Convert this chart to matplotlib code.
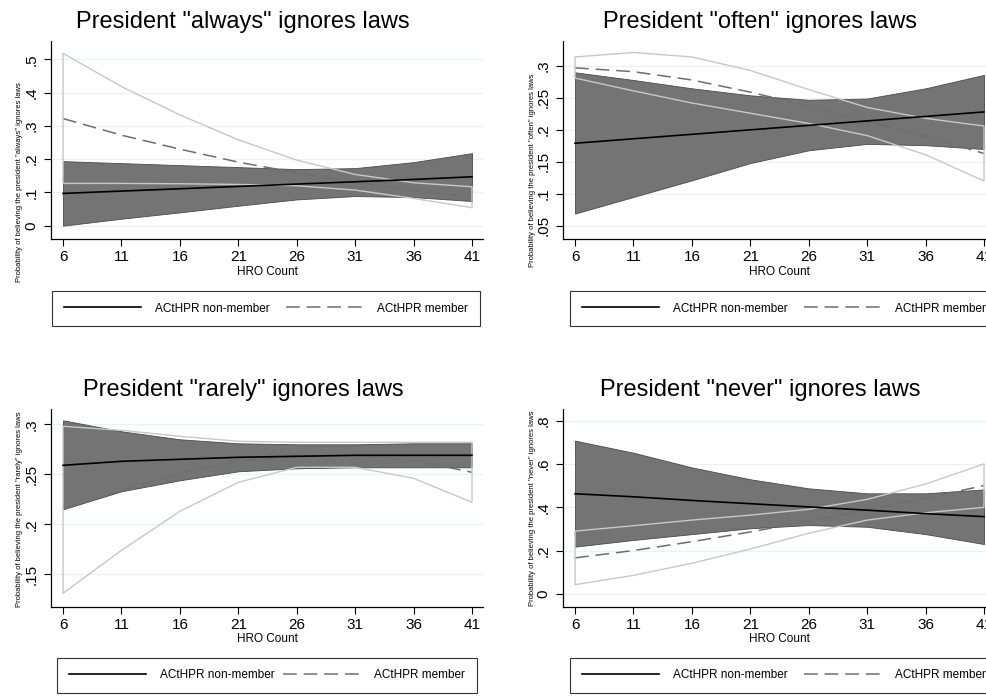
import matplotlib.pyplot as plt

plt.rcParams["font.family"] = ["Liberation Sans", "DejaVu Sans"]

W, H = 986, 696

hro = [6, 11, 16, 21, 26, 31, 36, 41]
x_ticks = [6, 11, 16, 21, 26, 31, 36, 41]
legend_labels = ["ACtHPR non-member", "ACtHPR member"]

# "always"
always_nm = [0.097, 0.104, 0.111, 0.118, 0.125, 0.132, 0.139, 0.147]
always_nm_lo = [0.000, 0.021, 0.040, 0.060, 0.079, 0.089, 0.086, 0.074]
always_nm_hi = [0.194, 0.188, 0.182, 0.176, 0.170, 0.173, 0.191, 0.218]
always_m = [0.322, 0.272, 0.230, 0.191, 0.159, 0.131, 0.106, 0.086]
always_m_lo = [0.127, 0.127, 0.126, 0.124, 0.120, 0.107, 0.082, 0.054]
always_m_hi = [0.518, 0.418, 0.333, 0.258, 0.197, 0.154, 0.129, 0.117]

# "often"
often_nm = [0.179, 0.186, 0.193, 0.200, 0.207, 0.214, 0.221, 0.228]
often_nm_lo = [0.069, 0.095, 0.121, 0.148, 0.168, 0.178, 0.176, 0.170]
often_nm_hi = [0.290, 0.278, 0.265, 0.254, 0.247, 0.249, 0.265, 0.286]
often_m = [0.297, 0.291, 0.278, 0.259, 0.237, 0.213, 0.190, 0.163]
often_m_lo = [0.281, 0.261, 0.242, 0.226, 0.210, 0.191, 0.161, 0.120]
often_m_hi = [0.314, 0.321, 0.314, 0.293, 0.263, 0.235, 0.218, 0.206]

# "rarely"
rarely_nm = [0.259, 0.263, 0.265, 0.267, 0.268, 0.269, 0.269, 0.269]
rarely_nm_lo = [0.215, 0.233, 0.244, 0.253, 0.256, 0.257, 0.257, 0.257]
rarely_nm_hi = [0.304, 0.293, 0.285, 0.281, 0.280, 0.280, 0.281, 0.281]
rarely_m = [0.215, 0.234, 0.251, 0.263, 0.269, 0.269, 0.264, 0.252]
rarely_m_lo = [0.131, 0.174, 0.213, 0.242, 0.257, 0.257, 0.246, 0.222]
rarely_m_hi = [0.298, 0.294, 0.288, 0.283, 0.282, 0.282, 0.282, 0.282]

# "never"
never_nm = [0.463, 0.449, 0.432, 0.417, 0.402, 0.387, 0.371, 0.357]
never_nm_lo = [0.218, 0.249, 0.276, 0.303, 0.318, 0.310, 0.276, 0.230]
never_nm_hi = [0.709, 0.653, 0.585, 0.530, 0.488, 0.465, 0.465, 0.483]
never_m = [0.166, 0.200, 0.241, 0.286, 0.336, 0.389, 0.442, 0.501]
never_m_lo = [0.042, 0.085, 0.141, 0.207, 0.280, 0.341, 0.375, 0.400]
never_m_hi = [0.290, 0.315, 0.341, 0.364, 0.391, 0.437, 0.508, 0.601]

always_yticks = [0, 0.1, 0.2, 0.3, 0.4, 0.5]
always_ylabels = ["0", ".1", ".2", ".3", ".4", ".5"]
often_yticks = [0.05, 0.1, 0.15, 0.2, 0.25, 0.3]
often_ylabels = [".05", ".1", ".15", ".2", ".25", ".3"]
rarely_yticks = [0.15, 0.2, 0.25, 0.3]
rarely_ylabels = [".15", ".2", ".25", ".3"]
never_yticks = [0, 0.2, 0.4, 0.6, 0.8]
never_ylabels = ["0", ".2", ".4", ".6", ".8"]

BAND = "#747474"
BAND_EDGE = "#4a4a4a"
DASH = "#6e6e6e"
LIGHT = "#c8c8c8"
GRID = "#eaf2f3"


def px_rect(x0, y0, x1, y1):
    return [x0 / W, 1 - y1 / H, (x1 - x0) / W, (y1 - y0) / H]


def draw_panel(fig, box, ylim, yticks, ylabels, nm, nm_lo, nm_hi, m, m_lo, m_hi,
               title, title_xy, ylabel, ylabel_xy, legend_box):
    ax = fig.add_axes(px_rect(*box))
    ax.set_xlim(4.97, 41.94)
    ax.set_ylim(*ylim)
    ax.set_axisbelow(True)
    ax.yaxis.grid(True, color=GRID, lw=0.9)

    ax.fill_between(hro, nm_lo, nm_hi, facecolor=BAND, edgecolor=BAND_EDGE,
                    lw=0.6, zorder=2)
    dashed, = ax.plot(hro, m, color=DASH, lw=1.1, ls=(0, (9, 4.5)), zorder=3)
    ax.fill_between(hro, m_lo, m_hi, facecolor="none", edgecolor=LIGHT,
                    lw=1.0, zorder=4)
    solid, = ax.plot(hro, nm, color="black", lw=1.2, zorder=5)

    ax.set_xticks(x_ticks)
    ax.set_xticklabels([str(v) for v in x_ticks], fontsize=11)
    ax.set_yticks(yticks)
    ax.set_yticklabels(ylabels, fontsize=11, rotation=90, va="center")
    ax.tick_params(direction="out", length=5, width=0.8, pad=3)
    ax.tick_params(axis="y", pad=4)
    for side in ("top", "right"):
        ax.spines[side].set_visible(False)
    for side in ("left", "bottom"):
        ax.spines[side].set_linewidth(0.9)
    ax.set_xlabel("HRO Count", fontsize=8.5, labelpad=1)

    fig.text(title_xy[0] / W, 1 - title_xy[1] / H, title, fontsize=17,
             ha="center", va="baseline")
    fig.text(ylabel_xy[0] / W, 1 - ylabel_xy[1] / H, ylabel, fontsize=5.5,
             rotation=90, ha="center", va="center")

    lx0, ly0, lx1, ly1 = legend_box
    leg = ax.legend([solid, dashed], legend_labels, ncol=2, mode="expand",
                    loc="center", bbox_to_anchor=(lx0 / W, 1 - ly1 / H,
                                                  (lx1 - lx0) / W, (ly1 - ly0) / H),
                    bbox_transform=fig.transFigure, fontsize=8.5, frameon=True,
                    fancybox=False, edgecolor="black", borderpad=1.0,
                    handlelength=6.5, handletextpad=1.25, borderaxespad=0)
    leg.get_frame().set_linewidth(0.8)
    return ax


fig = plt.figure(figsize=(W / 100, H / 100), dpi=100)
fig.patch.set_facecolor("white")

draw_panel(fig, (51, 41, 483, 239), (-0.040, 0.555), always_yticks, always_ylabels,
           always_nm, always_nm_lo, always_nm_hi, always_m, always_m_lo, always_m_hi,
           'President "always" ignores laws', (243, 28),
           'Probability of believing the president "always" ignores laws', (20, 182),
           (52, 292, 480, 325))
draw_panel(fig, (563, 41, 995, 239), (0.0292, 0.339), often_yticks, often_ylabels,
           often_nm, often_nm_lo, often_nm_hi, often_m, often_m_lo, often_m_hi,
           'President "often" ignores laws', (760, 28),
           'Probability of believing the president "often" ignores laws', (532, 170),
           (570, 292, 998, 325))
draw_panel(fig, (51, 409, 483, 607), (0.1173, 0.3153), rarely_yticks, rarely_ylabels,
           rarely_nm, rarely_nm_lo, rarely_nm_hi, rarely_m, rarely_m_lo, rarely_m_hi,
           'President "rarely" ignores laws', (243, 396),
           'Probability of believing the president "rarely" ignores laws', (20, 509),
           (57, 659, 477, 692))
draw_panel(fig, (563, 409, 995, 607), (-0.0616, 0.8556), never_yticks, never_ylabels,
           never_nm, never_nm_lo, never_nm_hi, never_m, never_m_lo, never_m_hi,
           'President "never" ignores laws', (760, 396),
           'Probability of believing the president "never" ignores laws', (532, 508),
           (570, 659, 998, 692))

fig.savefig("out.png", dpi=100)
